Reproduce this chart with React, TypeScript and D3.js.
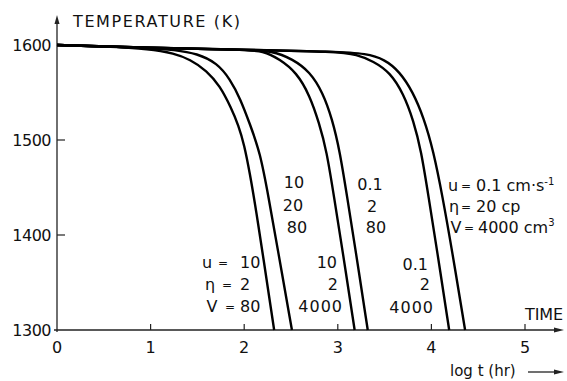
import React from "react";
import * as d3 from "d3";

// log t (hr) vs temperature (K)
const xTicks = [0, 1, 2, 3, 4, 5];
const yTicks = [1300, 1400, 1500, 1600];

// u=10, eta=2, V=80
const curveA: [number, number][] = [
  [0, 1600], [0.5, 1598.5], [1.0, 1596], [1.25, 1591], [1.42, 1585], [1.6, 1573],
  [1.74, 1557], [1.86, 1534], [1.94, 1515], [2.0, 1495], [2.06, 1465], [2.13, 1425], [2.32, 1300],
];
// u=10, eta=20, V=80
const curveB: [number, number][] = [
  [0, 1600], [0.5, 1598.5], [1.0, 1597], [1.25, 1595], [1.5, 1591], [1.71, 1581],
  [1.85, 1564], [1.96, 1543], [2.06, 1517], [2.17, 1487], [2.26, 1440], [2.36, 1384], [2.51, 1300],
];
// u=10, eta=2, V=4000
const curveC: [number, number][] = [
  [0, 1600], [1.0, 1597], [2.0, 1595], [2.2, 1594], [2.38, 1585], [2.56, 1571],
  [2.70, 1547], [2.80, 1518], [2.88, 1489], [2.96, 1440], [3.05, 1384], [3.18, 1300],
];
// u=0.1, eta=2, V=80
const curveD: [number, number][] = [
  [0, 1600], [1.0, 1597], [2.0, 1595], [2.3, 1594], [2.52, 1585], [2.70, 1572],
  [2.84, 1550], [2.94, 1522], [3.02, 1489], [3.10, 1440], [3.19, 1384], [3.32, 1300],
];
// u=0.1, eta=2, V=4000
const curveE: [number, number][] = [
  [0, 1600], [1.0, 1597], [2.0, 1595], [3.0, 1593], [3.2, 1590], [3.38, 1583],
  [3.56, 1571], [3.70, 1549], [3.81, 1520], [3.89, 1489], [3.97, 1440], [4.06, 1384], [4.19, 1300],
];
// u=0.1, eta=20, V=4000
const curveF: [number, number][] = [
  [0, 1600], [1.0, 1597], [2.0, 1595], [3.0, 1593], [3.3, 1591], [3.5, 1585],
  [3.66, 1572], [3.80, 1551], [3.92, 1523], [4.02, 1489], [4.12, 1440], [4.22, 1384], [4.36, 1300],
];

const curves = [curveA, curveB, curveC, curveD, curveE, curveF];

const font = "'DejaVu Sans', sans-serif";

export default function App() {
  const width = 567;
  const height = 381;

  const x = d3.scaleLinear().domain([0, 5]).range([57, 525]);
  const y = d3.scaleLinear().domain([1300, 1600]).range([330, 45]);

  const line = d3
    .line<[number, number]>()
    .x((d) => x(d[0]))
    .y((d) => y(d[1]))
    .curve(d3.curveBasis);

  const x0 = x(0);
  const y0 = y(1300);

  const txt = (props: any, s: React.ReactNode) => (
    <text fontFamily={font} fontSize={16} fill="#111" {...props}>
      {s}
    </text>
  );
  const eq = (cx: number, cy: number) =>
    txt({ x: cx, y: cy - 1, textAnchor: "middle", fontSize: 12 }, "=");

  return (
    <svg
      width={width}
      height={height}
      style={{ position: "absolute", left: 0, top: 0, background: "#fff" }}
    >
      <rect width={width} height={height} fill="#fff" />

      {/* axes */}
      <line x1={x0} y1={y0 + 2} x2={x0} y2={22} stroke="#222" strokeWidth={1.3} />
      <path d={`M${x0 - 2.5},24 L${x0},15 L${x0 + 2.5},24 Z`} fill="#222" />
      <line x1={x0 - 3} y1={y0} x2={556} y2={y0} stroke="#222" strokeWidth={1.3} />
      <path d={`M554,${y0 - 2.5} L564,${y0} L554,${y0 + 2.5} Z`} fill="#222" />

      {yTicks
        .filter((t) => t === 1400 || t === 1500)
        .map((t) => (
          <line key={t} x1={x0} x2={x0 + 8} y1={y(t)} y2={y(t)} stroke="#222" strokeWidth={1.2} />
        ))}
      {xTicks
        .filter((t) => t > 0)
        .map((t) => (
          <line key={t} x1={x(t)} x2={x(t)} y1={y0} y2={y0 - 6} stroke="#222" strokeWidth={1.2} />
        ))}

      {yTicks.map((t) =>
        txt({ key: t, x: 51, y: y(t) + 6, textAnchor: "end", letterSpacing: -0.5 }, t)
      )}
      {xTicks.map((t) => txt({ key: t, x: x(t), y: 353, textAnchor: "middle" }, t))}

      {txt({ x: 73, y: 27, textLength: 167, lengthAdjust: "spacing" }, "TEMPERATURE (K)")}
      {txt({ x: 525, y: 320, textLength: 38, lengthAdjust: "spacing" }, "TIME")}
      {txt({ x: 450, y: 376, fontSize: 15 }, "log t (hr)")}
      <line x1={528} x2={556} y1={372} y2={372} stroke="#222" strokeWidth={1.3} />
      <path d="M554,369.5 L564,372 L554,374.5 Z" fill="#222" />

      {/* curves */}
      {curves.map((c, i) => (
        <path key={i} d={line(c) || ""} fill="none" stroke="#000" strokeWidth={2.4} />
      ))}

      {/* annotations */}
      {txt({ x: 207, y: 268, textAnchor: "middle" }, "u")}
      {eq(223, 268)}
      {txt({ x: 240, y: 268 }, "10")}
      {txt({ x: 210, y: 290, textAnchor: "middle" }, "η")}
      {eq(227, 290)}
      {txt({ x: 240, y: 290 }, "2")}
      {txt({ x: 212, y: 312, textAnchor: "middle" }, "V")}
      {eq(230, 312)}
      {txt({ x: 240, y: 312 }, "80")}

      {txt({ x: 294, y: 188, textAnchor: "middle" }, "10")}
      {txt({ x: 293, y: 211, textAnchor: "middle" }, "20")}
      {txt({ x: 297, y: 233, textAnchor: "middle" }, "80")}

      {txt({ x: 337, y: 268, textAnchor: "end" }, "10")}
      {txt({ x: 338, y: 290, textAnchor: "end" }, "2")}
      {txt({ x: 343, y: 312, textAnchor: "end", letterSpacing: 1 }, "4000")}

      {txt({ x: 370, y: 190, textAnchor: "middle" }, "0.1")}
      {txt({ x: 372, y: 212, textAnchor: "middle" }, "2")}
      {txt({ x: 376, y: 233, textAnchor: "middle" }, "80")}

      {txt({ x: 428, y: 270, textAnchor: "end" }, "0.1")}
      {txt({ x: 430, y: 290, textAnchor: "end" }, "2")}
      {txt({ x: 434, y: 313, textAnchor: "end", letterSpacing: 1 }, "4000")}

      {txt({ x: 453, y: 191, textAnchor: "middle" }, "u")}
      {eq(466, 191)}
      {txt({ x: 476, y: 191 }, <>0.1 cm·s<tspan dy={-6} fontSize={10}>-1</tspan></>)}
      {txt({ x: 454, y: 212, textAnchor: "middle" }, "η")}
      {eq(466, 212)}
      {txt({ x: 476, y: 212 }, "20 cp")}
      {txt({ x: 456, y: 233, textAnchor: "middle" }, "V")}
      {eq(469, 233)}
      {txt({ x: 478, y: 233 }, <>4000 cm<tspan dy={-7} fontSize={10}>3</tspan></>)}
    </svg>
  );
}
